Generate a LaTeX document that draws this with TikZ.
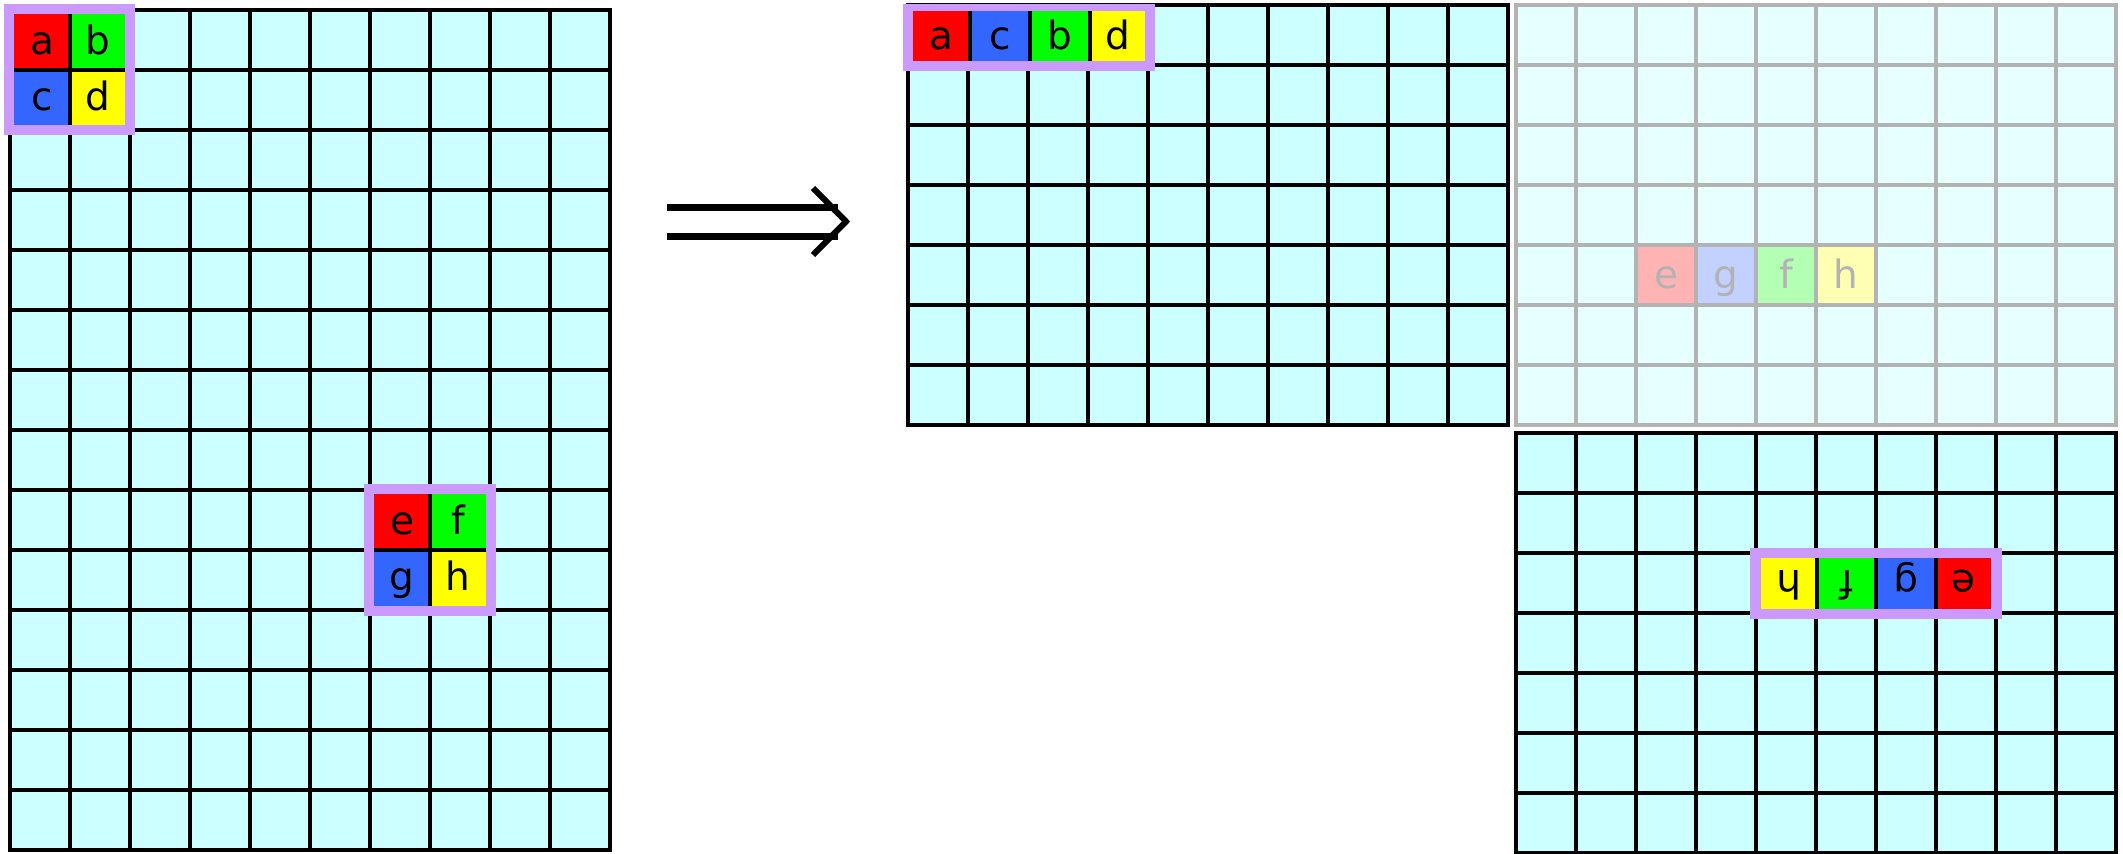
\documentclass[tikz,border=0pt]{standalone}
\usepackage{fontspec}
\setmainfont{DejaVu Sans}
\definecolor{cellcyan}{HTML}{CCFFFF}
\definecolor{palecyan}{HTML}{E6FFFF}
\definecolor{fadegray}{HTML}{B3B3B3}
\definecolor{cred}{HTML}{FF0000}
\definecolor{cgreen}{HTML}{00FF00}
\definecolor{cblue}{HTML}{3366FF}
\definecolor{cyellow}{HTML}{FFFF00}
\definecolor{fred}{HTML}{FFB3B3}
\definecolor{fgreen}{HTML}{B3FFB3}
\definecolor{fblue}{HTML}{C2D1FF}
\definecolor{fyellow}{HTML}{FFFFB3}
\definecolor{framepurple}{HTML}{CC99FF}
\begin{document}
\begin{tikzpicture}[x=1pt,y=-1pt,
  gridline/.style={line width=4pt, line cap=rect, black},
  fadeline/.style={line width=4pt, line cap=rect, fadegray},
  divline/.style={line width=4pt, black},
  lbl/.style={font=\fontsize{39}{44}\selectfont, inner sep=0pt, anchor=base, text=black},
  fadelbl/.style={lbl, text=fadegray},
  flipped/.style={lbl, rotate=180}]
\useasboundingbox (0,0) rectangle (2123,854);

% ---------- left grid (10 x 14) ----------
\fill[cellcyan] (10,10) rectangle (610,850);
\foreach \i in {0,...,10} \draw[gridline] ({10+60*\i},10) -- ({10+60*\i},850);
\foreach \j in {0,...,14} \draw[gridline] (10,{10+60*\j}) -- (610,{10+60*\j});

% ---------- middle grid (10 x 7) ----------
\fill[cellcyan] (908,5) rectangle (1508,425);
\foreach \i in {0,...,10} \draw[gridline] ({908+60*\i},5) -- ({908+60*\i},425);
\foreach \j in {0,...,7} \draw[gridline] (908,{5+60*\j}) -- (1508,{5+60*\j});

% ---------- faded grid (10 x 7) ----------
\fill[palecyan] (1516,5) rectangle (2116,425);
\fill[fred] (1636,245) rectangle (1696,305);
\fill[fblue] (1696,245) rectangle (1756,305);
\fill[fgreen] (1756,245) rectangle (1816,305);
\fill[fyellow] (1816,245) rectangle (1876,305);
\foreach \i in {0,...,10} \draw[fadeline] ({1516+60*\i},5) -- ({1516+60*\i},425);
\foreach \j in {0,...,7} \draw[fadeline] (1516,{5+60*\j}) -- (2116,{5+60*\j});
\node[fadelbl] (fe) at (1666,288) {e};
\node[fadelbl] (fg) at (1726,288) {g};
\node[fadelbl] (ff) at (1786,288) {f};
\node[fadelbl] (fh) at (1846,288) {h};

% ---------- bottom grid (10 x 7) ----------
\fill[cellcyan] (1516,433) rectangle (2116,853);
\foreach \i in {0,...,10} \draw[gridline] ({1516+60*\i},433) -- ({1516+60*\i},853);
\foreach \j in {0,...,7} \draw[gridline] (1516,{433+60*\j}) -- (2116,{433+60*\j});

% ---------- block abcd (left) ----------
\fill[framepurple] (4,4) rectangle (135,135);
\fill[cred] (14,14) rectangle (70,70);
\fill[cgreen] (70,14) rectangle (125,70);
\fill[cblue] (14,70) rectangle (70,125);
\fill[cyellow] (70,70) rectangle (125,125);
\draw[divline] (70,14) -- (70,125);
\draw[divline] (14,70) -- (125,70);
\node[lbl] (la) at (42,54) {a};
\node[lbl] (lb) at (97.5,54) {b};
\node[lbl] (lc) at (42,110) {c};
\node[lbl] (ld) at (97.5,110) {d};

% ---------- block efgh (left) ----------
\fill[framepurple] (364,484) rectangle (496,616);
\fill[cred] (374,494) rectangle (430,550);
\fill[cgreen] (430,494) rectangle (486,550);
\fill[cblue] (374,550) rectangle (430,606);
\fill[cyellow] (430,550) rectangle (486,606);
\draw[divline] (430,494) -- (430,606);
\draw[divline] (374,550) -- (486,550);
\node[lbl] (le) at (402,534) {e};
\node[lbl] (lf) at (458,534) {f};
\node[lbl] (lg) at (402,590) {g};
\node[lbl] (lh) at (458,590) {h};

% ---------- block acbd (middle) ----------
\fill[framepurple] (903,4) rectangle (1155,71);
\fill[cred] (913,11) rectangle (970,61);
\fill[cblue] (970,11) rectangle (1030,61);
\fill[cgreen] (1030,11) rectangle (1090,61);
\fill[cyellow] (1090,11) rectangle (1145,61);
\draw[divline] (970,11) -- (970,61);
\draw[divline] (1030,11) -- (1030,61);
\draw[divline] (1090,11) -- (1090,61);
\node[lbl] (ma) at (941.5,49) {a};
\node[lbl] (mc) at (1000,49) {c};
\node[lbl] (mb) at (1060,49) {b};
\node[lbl] (md) at (1117.5,49) {d};

% ---------- block hfge (bottom, flipped) ----------
\fill[framepurple] (1750,548) rectangle (2002,619);
\fill[cyellow] (1761,558) rectangle (1817,609);
\fill[cgreen] (1817,558) rectangle (1876,609);
\fill[cblue] (1876,558) rectangle (1936,609);
\fill[cred] (1936,558) rectangle (1991,609);
\draw[divline] (1817,558) -- (1817,609);
\draw[divline] (1876,558) -- (1876,609);
\draw[divline] (1936,558) -- (1936,609);
\node[flipped] (bh) at (1789,570) {h};
\node[flipped] (bf) at (1846.5,570) {f};
\node[flipped] (bg) at (1906,570) {g};
\node[flipped] (be) at (1963.5,570) {e};

% ---------- implies arrow ----------
\coordinate (arA1) at (667,207);
\coordinate (arB1) at (838,207);
\coordinate (arA2) at (667,236);
\coordinate (arB2) at (838,236);
\coordinate (tipU) at (813,188);
\coordinate (tip) at (846,221.5);
\coordinate (tipL) at (813,255);
\draw[line width=7pt] (arA1) -- (arB1);
\draw[line width=7pt] (arA2) -- (arB2);
\draw[line width=6pt, miter limit=10] (tipU) -- (tip) -- (tipL);
\end{tikzpicture}
\end{document}
